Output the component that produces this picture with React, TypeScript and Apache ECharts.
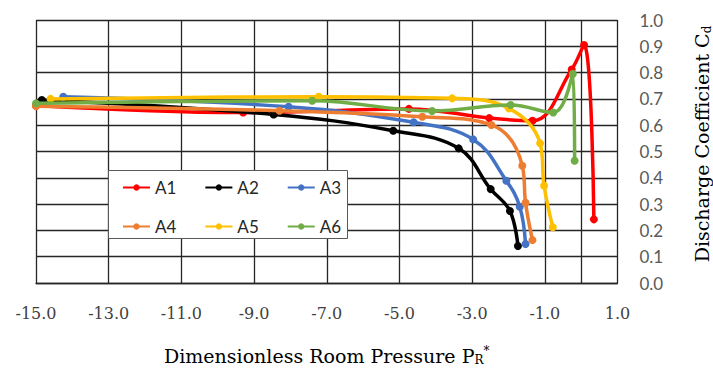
import React, { useEffect, useRef } from "react";
import * as echarts from "echarts";

const seriesNames = ["A1", "A2", "A3", "A4", "A5", "A6"];
const seriesColors = ["#FF0000", "#000000", "#4472C4", "#ED7D31", "#FFC000", "#70AD47"];

const a1X = [-15.0, -9.3, -4.74, -2.53, -1.34, -0.26, 0.08, 0.35];
const a1Y = [0.675, 0.648, 0.662, 0.627, 0.617, 0.812, 0.905, 0.242];
const a2X = [-14.84, -8.46, -5.17, -3.37, -2.49, -1.96, -1.74];
const a2Y = [0.696, 0.641, 0.579, 0.512, 0.357, 0.274, 0.141];
const a3X = [-14.25, -8.05, -4.61, -2.97, -2.06, -1.69, -1.53];
const a3Y = [0.708, 0.67, 0.611, 0.546, 0.389, 0.29, 0.148];
const a4X = [-15.0, -8.3, -4.37, -2.47, -1.62, -1.53, -1.34];
const a4Y = [0.672, 0.655, 0.632, 0.601, 0.446, 0.305, 0.163];
const a5X = [-14.6, -7.22, -3.55, -1.99, -1.13, -1.02, -0.78];
const a5Y = [0.7, 0.708, 0.702, 0.664, 0.531, 0.37, 0.212];
const a6X = [-15.0, -7.4, -4.1, -1.94, -0.77, -0.23, -0.18];
const a6Y = [0.683, 0.693, 0.654, 0.677, 0.648, 0.795, 0.465];

const allX = [a1X, a2X, a3X, a4X, a5X, a6X];
const allY = [a1Y, a2Y, a3Y, a4Y, a5Y, a6Y];

const xTickMin = -15;
const xTickMax = 1;
const xTickStep = 2;
const yTickMin = 0;
const yTickMax = 1;
const yTickStep = 0.1;

export default function App() {
  const ref = useRef<HTMLDivElement>(null);
  useEffect(() => {
    document.body.style.margin = "0";
    const chart = echarts.init(ref.current!, null, { renderer: "svg" });
    const gridColor = "#262626";
    const series: any[] = seriesNames.map((name, i) => ({
      name,
      type: "line",
      data: allX[i].map((x, j) => [x, allY[i][j]]),
      smooth: 0.4,
      symbol: "circle",
      symbolSize: 8,
      showSymbol: true,
      lineStyle: { width: 3.5, color: seriesColors[i] },
      itemStyle: { color: seriesColors[i] },
      z: 3 + i,
      clip: false,
    }));
    series[0].markLine = {
      silent: true,
      symbol: "none",
      label: { show: false },
      lineStyle: { color: gridColor, width: 1.3, type: "solid" },
      data: [{ xAxis: 0 }],
      z: 1,
    };
    const legendCommon = {
      orient: "horizontal",
      padding: 0,
      itemWidth: 27,
      itemHeight: 8,
      itemGap: 28,
      textStyle: { fontFamily: "Lato", fontSize: 17, color: "#262626" },
      z: 10,
    };
    chart.setOption({
      animation: false,
      grid: { left: 36, right: 95.5, top: 20, bottom: 87, outerBoundsMode: "none", containLabel: false },
      xAxis: {
        type: "value",
        min: xTickMin,
        max: xTickMax,
        interval: xTickStep,
        axisLine: { show: true, onZero: false, lineStyle: { color: gridColor, width: 1.3 } },
        axisTick: { show: false },
        splitLine: { show: true, lineStyle: { color: gridColor, width: 1.3 } },
        axisLabel: {
          margin: 22,
          fontFamily: "DejaVu Serif",
          fontSize: 16,
          color: "#404040",
          formatter: (v: number) => v.toFixed(1),
        },
        name: "Dimensionless Room Pressure P{r|R}{s|*}",
        nameLocation: "middle",
        nameGap: 62,
        nameTextStyle: {
          fontFamily: "DejaVu Serif",
          fontSize: 19,
          color: "#000",
          rich: {
            r: { fontFamily: "DejaVu Serif", fontSize: 12, color: "#000", verticalAlign: "bottom", padding: [9, 0, 0, 0] },
            s: { fontFamily: "DejaVu Serif", fontSize: 12, color: "#000", verticalAlign: "top", padding: [0, 0, 9, 0] },
          },
        },
      },
      yAxis: {
        type: "value",
        position: "right",
        min: yTickMin,
        max: yTickMax,
        interval: yTickStep,
        axisLine: { show: false },
        axisTick: { show: false },
        splitLine: { show: true, lineStyle: { color: gridColor, width: 1.3 } },
        axisLabel: {
          margin: 22,
          fontFamily: "Lato",
          fontSize: 17,
          color: "#595959",
          formatter: (v: number) => v.toFixed(1),
        },
        name: "Discharge Coefficient C{d|d}",
        nameLocation: "middle",
        nameRotate: 90,
        nameGap: 74,
        nameTextStyle: {
          fontFamily: "DejaVu Serif",
          fontSize: 19,
          color: "#000",
          padding: [0, 0, 0, 15],
          rich: {
            d: { fontFamily: "DejaVu Serif", fontSize: 12, color: "#000", verticalAlign: "bottom", padding: [9, 0, 0, 0] },
          },
        },
      },
      legend: [
        { ...legendCommon, data: seriesNames.slice(0, 3), left: 122, top: 179 },
        { ...legendCommon, data: seriesNames.slice(3, 6), left: 122, top: 218 },
      ],
      graphic: [
        {
          type: "rect",
          left: 108,
          top: 170,
          shape: { width: 239, height: 68 },
          style: { fill: "#fff", stroke: "#595959", lineWidth: 1 },
          z: 8,
        },
      ],
      series,
    });
    return () => chart.dispose();
  }, []);
  return <div ref={ref} style={{ width: 713, height: 370 }} />;
}
